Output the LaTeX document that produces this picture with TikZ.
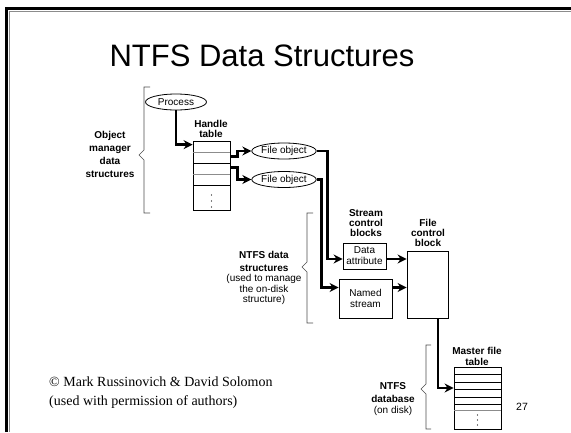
\documentclass[tikz,border=0pt]{standalone}
\usepackage{fontspec}
\setmainfont{Liberation Sans}
\newfontfamily\credfont{Liberation Serif}
\usetikzlibrary{shapes.geometric,arrows.meta,calc}
\tikzset{
	obj/.style={ellipse,draw,line width=0.8pt,inner sep=0,minimum width=61,minimum height=16,font=\fontsize{10}{11}\selectfont},
	blk/.style={rectangle,draw,line width=0.8pt,inner sep=0,align=center,font=\fontsize{10}{11}\selectfont},
	heading/.style={align=center,inner sep=0,font=\fontsize{10}{10.2}\selectfont\bfseries},
	side/.style={align=center,inner sep=0,font=\fontsize{10}{10.5}\selectfont},
	ptr/.style={->,>={Stealth[width=9pt,length=9pt]},line width=2.6pt},
	brace/.style={draw=black!70,line width=0.6pt},
	row/.style={line width=0.7pt}
}

\begin{document}
\begin{tikzpicture}[x=1pt,y=-1pt]
	\useasboundingbox (0,0) rectangle (571,432);

	%%slide frame
	\draw[black!45,line width=1pt] (9,432) -- (9,11) -- (571,11);
	\draw[line width=2.6pt] (6.5,432) -- (6.5,8.5) -- (571,8.5);

	%%title
	\node[inner sep=0,font=\fontsize{31}{34}\selectfont] (title) at (262,56) {NTFS Data Structures};

	%%object manager part
	\node[obj] (proc) at (176,102) {Process};
	\node[heading] (htlbl) at (211,129) {Handle\\table};
	\node[blk,minimum width=37,minimum height=69] (ht) at (211.5,175.5) {};
	\foreach \y/\c in {152/black!45,163/black,174/black!45,185/black}
		\draw[row,\c] (193,\y) -- (230,\y);
	\foreach \y in {195,201,207}
		\fill (211.5,\y) circle (0.7);
	\node[obj] (fo1) at (284,151) {File object};
	\node[obj] (fo2) at (284,179.5) {File object};

	%%NTFS part
	\node[heading] (scblbl) at (366,223) {Stream\\control\\blocks};
	\node[blk,minimum width=43,minimum height=26] (da) at (364.5,256) {Data\\attribute};
	\node[blk,minimum width=53,minimum height=39] (ns) at (365.5,298.5) {Named\\stream};
	\node[heading] (fcblbl) at (428,233) {File\\control\\block};
	\node[blk,minimum width=41,minimum height=67] (fcb) at (427.5,284.5) {};

	%%on-disk part
	\node[heading] (mftlbl) at (477,356.5) {Master file\\table};
	\node[blk,minimum width=47,minimum height=62] (mft) at (477.5,398) {};
	\foreach \y in {374,382,389,397,404}
		\draw[row] (454,\y) -- (501,\y);
	\draw[row,black!45] (454,410) -- (501,410);
	\foreach \y in {415,420,425}
		\fill (477.5,\y) circle (0.7);

	%%pointers
	\draw[ptr] (proc.south) |- ([yshift=-4pt]ht.north west);
	\draw[ptr] ([yshift=-16pt]ht.north east) -- ++(7,0) |- (fo1.west);
	\draw[ptr] ([yshift=-27pt]ht.north east) -- ++(7,0) |- (fo2.west);
	\draw[ptr] (fo1.east) -- ++(11,0) |- ([yshift=-3pt]da.west);
	\draw[ptr] (fo2.east) -- ++(5,0) |- ([yshift=11pt]ns.west);
	\draw[ptr] ([yshift=-3pt]da.east) -- ([yshift=-3pt]fcb.west |- da.east);
	\draw[ptr] ([yshift=11pt]ns.east) -- ([yshift=11pt]fcb.west |- ns.east);
	\draw[ptr] ([xshift=10.5pt]fcb.south) |- ([yshift=10pt]mft.west);

	%%braces and their labels
	\draw[brace] (150,87) -- (144,87) -- (144,150) -- (139,155) -- (144,160) -- (144,213) -- (150,213);
	\node[heading,font=\fontsize{10}{13}\selectfont\bfseries] (omlbl) at (110,154.5) {Object\\manager\\data\\structures};
	\draw[brace] (313,213) -- (307,213) -- (307,262) -- (302,267) -- (307,272) -- (307,323) -- (313,323);
	\node[side] (ntlbl) at (264,278) {\textbf{NTFS data}\\[2.5pt]\textbf{structures}\\(used to manage\\the on-disk\\structure)};
	\draw[brace] (431,345) -- (426,345) -- (426,384) -- (421,389) -- (426,394) -- (426,429) -- (431,429);
	\node[side] (dblbl) at (393,399) {\textbf{NTFS}\\[2.5pt]\textbf{database}\\(on disk)};

	%%credit and page number
	\node[anchor=west,align=left,inner sep=0,font=\credfont\fontsize{14}{19}\selectfont] (cred) at (49,392.5) {© Mark Russinovich \& David Solomon\\(used with permission of authors)};
	\node[inner sep=0,font=\fontsize{10.5}{12}\selectfont] (pgno) at (522,407) {27};
\end{tikzpicture}
\end{document}
